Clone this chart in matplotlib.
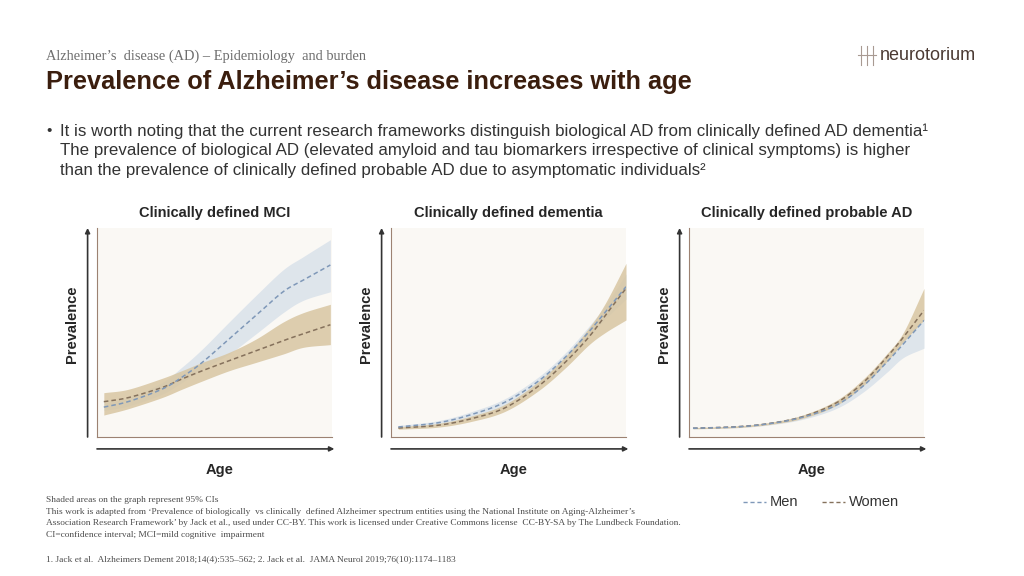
import matplotlib
matplotlib.use("Agg")
import matplotlib.pyplot as plt
import numpy as np

# --- data (normalised age 0..1, normalised prevalence 0..1) ---
mci_x = [0.029, 0.132, 0.275, 0.36, 0.448, 0.562, 0.677, 0.792, 0.878, 0.993]
mci_men = [0.143, 0.169, 0.228, 0.285, 0.357, 0.469, 0.582, 0.695, 0.751, 0.823]
mci_men_lo = [0.127, 0.148, 0.204, 0.26, 0.325, 0.397, 0.494, 0.595, 0.654, 0.695]
mci_men_hi = [0.164, 0.188, 0.26, 0.333, 0.421, 0.55, 0.678, 0.80, 0.863, 0.944]
mci_women = [0.169, 0.188, 0.236, 0.277, 0.317, 0.365, 0.413, 0.461, 0.494, 0.537]
mci_women_lo = [0.105, 0.135, 0.188, 0.228, 0.268, 0.317, 0.357, 0.397, 0.429, 0.442]
mci_women_hi = [0.212, 0.228, 0.28, 0.317, 0.357, 0.405, 0.469, 0.55, 0.595, 0.635]

dem_x = [0.031, 0.2, 0.344, 0.486, 0.628, 0.741, 0.841, 0.912, 1.0]
dem_men = [0.048, 0.068, 0.108, 0.167, 0.268, 0.381, 0.502, 0.598, 0.719]
dem_men_lo = [0.041, 0.058, 0.095, 0.152, 0.25, 0.36, 0.478, 0.565, 0.66]
dem_men_hi = [0.055, 0.078, 0.122, 0.184, 0.288, 0.402, 0.528, 0.63, 0.78]
dem_women = [0.043, 0.056, 0.088, 0.14, 0.244, 0.357, 0.477, 0.582, 0.711]
dem_women_lo = [0.037, 0.047, 0.075, 0.123, 0.222, 0.33, 0.44, 0.50, 0.56]
dem_women_hi = [0.049, 0.065, 0.101, 0.157, 0.266, 0.385, 0.52, 0.64, 0.831]

ad_x = [0.017, 0.2, 0.344, 0.486, 0.628, 0.741, 0.841, 0.912, 1.0]
ad_men = [0.042, 0.048, 0.064, 0.095, 0.153, 0.244, 0.357, 0.445, 0.558]
ad_men_lo = [0.039, 0.044, 0.058, 0.085, 0.137, 0.215, 0.309, 0.38, 0.425]
ad_men_hi = [0.045, 0.052, 0.07, 0.105, 0.168, 0.262, 0.375, 0.47, 0.566]
ad_women = [0.042, 0.049, 0.065, 0.098, 0.164, 0.26, 0.381, 0.477, 0.606]
ad_women_lo = [0.039, 0.045, 0.06, 0.09, 0.152, 0.245, 0.36, 0.455, 0.56]
ad_women_hi = [0.045, 0.053, 0.07, 0.106, 0.176, 0.277, 0.397, 0.50, 0.711]

panels = [
    ("Clinically defined MCI", mci_x, mci_men, mci_men_lo, mci_men_hi,
     mci_women, mci_women_lo, mci_women_hi),
    ("Clinically defined dementia", dem_x, dem_men, dem_men_lo, dem_men_hi,
     dem_women, dem_women_lo, dem_women_hi),
    ("Clinically defined probable AD", ad_x, ad_men, ad_men_lo, ad_men_hi,
     ad_women, ad_women_lo, ad_women_hi),
]
panel_left = [97, 391, 689]

W, H = 1024, 576
MEN_C = "#7f98b8"
WOMEN_C = "#85715c"
MEN_BAND = "#dbe3eb"
WOMEN_BAND = "#d8c6a2"
SANS = ["Liberation Sans", "DejaVu Sans"]
SERIF = ["Liberation Serif", "DejaVu Serif"]


def smooth(x, y, n=20):
    # catmull-rom through the read points, only for drawing
    x = np.asarray(x, float)
    y = np.asarray(y, float)
    px_ = np.concatenate([[2 * x[0] - x[1]], x, [2 * x[-1] - x[-2]]])
    py_ = np.concatenate([[2 * y[0] - y[1]], y, [2 * y[-1] - y[-2]]])
    t = np.linspace(0, 1, n, endpoint=False)[:, None]
    outx, outy = [], []
    for i in range(1, len(px_) - 2):
        for arr, out in ((px_, outx), (py_, outy)):
            p0, p1, p2, p3 = arr[i - 1], arr[i], arr[i + 1], arr[i + 2]
            seg = 0.5 * (2 * p1 + (-p0 + p2) * t + (2 * p0 - 5 * p1 + 4 * p2 - p3) * t ** 2
                         + (-p0 + 3 * p1 - 3 * p2 + p3) * t ** 3)
            out.append(seg.ravel())
    outx.append([x[-1]])
    outy.append([y[-1]])
    return np.concatenate(outx), np.concatenate(outy)


fig = plt.figure(figsize=(W / 100, H / 100), dpi=100)
fig.patch.set_facecolor("white")


def px(x, y):
    return x / W, 1 - y / H


# header
fig.text(*px(46, 56), "Alzheimer\u2019s  disease (AD) \u2013 Epidemiology  and burden",
         family=SERIF, fontsize=10.4, color="#6e6e6e", va="center")
fig.text(*px(46, 82), "Prevalence of Alzheimer\u2019s disease increases with age",
         family=SANS, fontsize=18.3, fontweight="bold", color="#3b1e0e", va="center")
fig.text(*px(880, 55), "neurotorium", family=SANS, fontsize=13, color="#4b3a33", va="center")
# small logo glyph
for dx in (-6, 0, 6):
    fig.add_artist(plt.Line2D([(867 + dx) / W] * 2, [1 - 46 / H, 1 - 65 / H],
                              color="#a89a92", lw=0.8))
fig.add_artist(plt.Line2D([858 / W, 876 / W], [1 - 55 / H] * 2, color="#a89a92", lw=0.8))

# bullet text
bullet = [
    "It is worth noting that the current research frameworks distinguish biological AD from clinically defined AD dementia\u00b9",
    "The prevalence of biological AD (elevated amyloid and tau biomarkers irrespective of clinical symptoms) is higher",
    "than the prevalence of clinically defined probable AD due to asymptomatic individuals\u00b2",
]
fig.text(*px(46, 131), "\u2022", family=SANS, fontsize=11, color="#333333", va="center")
for i, line in enumerate(bullet):
    fig.text(*px(60, 131 + 20 * i), line, family=SANS,
             fontsize=12.2, color="#333333", va="center")

for (title, x, m, mlo, mhi, w, wlo, whi), left in zip(panels, panel_left):
    ax = fig.add_axes([left / W, (H - 437) / H, 235 / W, 209 / H])
    ax.set_facecolor("#faf8f4")
    sx, smlo = smooth(x, mlo)
    _, smhi = smooth(x, mhi)
    _, swlo = smooth(x, wlo)
    _, swhi = smooth(x, whi)
    _, sm = smooth(x, m)
    _, sw = smooth(x, w)
    ax.fill_between(sx, smlo, smhi, color=MEN_BAND, lw=0, alpha=0.9)
    ax.fill_between(sx, swlo, swhi, color=WOMEN_BAND, lw=0, alpha=0.85)
    ax.plot(sx, sw, color=WOMEN_C, lw=1.1, ls=(0, (3, 2)))
    ax.plot(sx, sm, color=MEN_C, lw=1.1, ls=(0, (3, 2)))
    ax.set_xlim(0, 1)
    ax.set_ylim(0, 1)
    ax.set_xticks([])
    ax.set_yticks([])
    for s in ("top", "right"):
        ax.spines[s].set_visible(False)
    for s in ("left", "bottom"):
        ax.spines[s].set_color("#9c8272")
        ax.spines[s].set_linewidth(0.8)
    ax.annotate("", xy=(1.01, -0.057), xytext=(0, -0.057), xycoords="axes fraction",
                arrowprops=dict(arrowstyle="-|>", color="#333333", lw=1.2,
                                mutation_scale=7, shrinkA=0, shrinkB=0),
                annotation_clip=False)
    ax.annotate("", xy=(-0.04, 1.0), xytext=(-0.04, 0), xycoords="axes fraction",
                arrowprops=dict(arrowstyle="-|>", color="#333333", lw=1.2,
                                mutation_scale=7, shrinkA=0, shrinkB=0),
                annotation_clip=False)
    ax.text(0.5, 1.072, title, transform=ax.transAxes, ha="center", va="center",
            family=SANS, fontsize=10.5, fontweight="bold", color="#262626")
    ax.text(-0.107, 0.54, "Prevalence", transform=ax.transAxes, ha="center", va="center",
            rotation=90, family=SANS, fontsize=10.5, fontweight="bold", color="#262626")
    ax.text(0.52, -0.157, "Age", transform=ax.transAxes, ha="center", va="center",
            family=SANS, fontsize=10.5, fontweight="bold", color="#262626")

# legend
fig.add_artist(plt.Line2D([743 / W, 766 / W], [1 - 502 / H] * 2, color=MEN_C,
                          lw=1.0, ls=(0, (3, 2))))
fig.text(*px(770, 502), "Men", family=SANS, fontsize=10.5, color="#333333", va="center")
fig.add_artist(plt.Line2D([822 / W, 845 / W], [1 - 502 / H] * 2, color=WOMEN_C,
                          lw=1.0, ls=(0, (3, 2))))
fig.text(*px(849, 502), "Women", family=SANS, fontsize=10.5, color="#333333", va="center")

# footnotes
notes = [
    "Shaded areas on the graph represent 95% CIs",
    "This work is adapted from \u2018Prevalence of biologically  vs clinically  defined Alzheimer spectrum entities using the National Institute on Aging-Alzheimer\u2019s",
    "Association Research Framework\u2019 by Jack et al., used under CC-BY. This work is licensed under Creative Commons license  CC-BY-SA by The Lundbeck Foundation.",
    "CI=confidence interval; MCI=mild cognitive  impairment",
]
for i, n in enumerate(notes):
    fig.text(*px(46, 500 + 11.7 * i), n, family=SERIF, fontsize=6.75, color="#4d4d4d", va="center")
fig.text(*px(46, 559), "1. Jack et al.  Alzheimers Dement 2018;14(4):535\u2013562; 2. Jack et al.  JAMA Neurol 2019;76(10):1174\u20131183",
         family=SERIF, fontsize=6.75, color="#4d4d4d", va="center")

fig.savefig("out.png", dpi=100)
